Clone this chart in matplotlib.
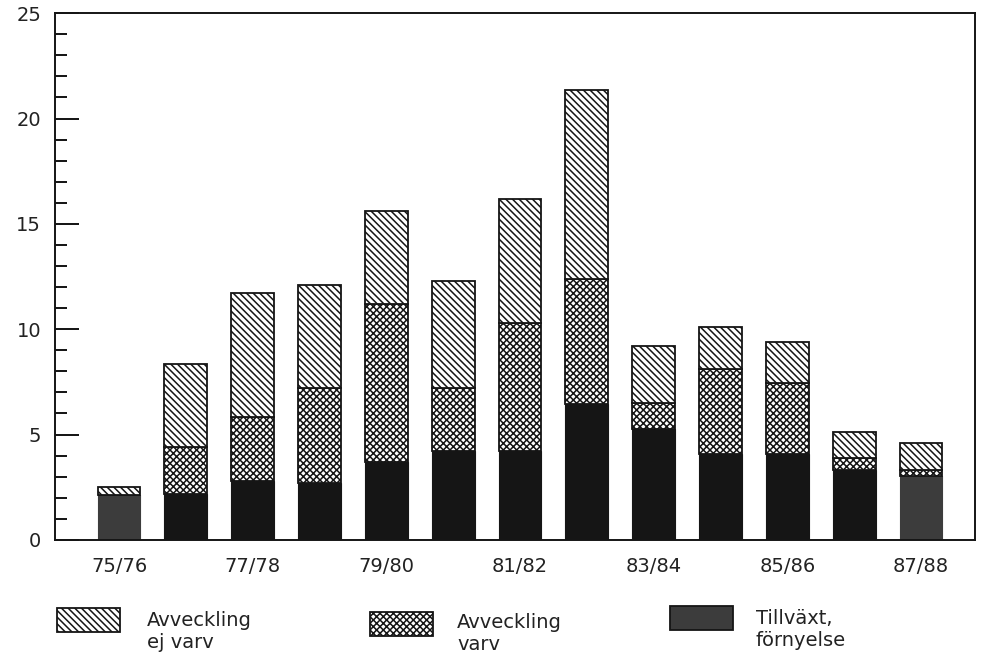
import matplotlib.pyplot as plt
from matplotlib.patches import Rectangle
from matplotlib.ticker import MultipleLocator

# periods 75/76 .. 87/88
periods = ["75/76", "76/77", "77/78", "78/79", "79/80", "80/81", "81/82",
           "82/83", "83/84", "84/85", "85/86", "86/87", "87/88"]
tick_labels = ["75/76", "", "77/78", "", "79/80", "", "81/82",
               "", "83/84", "", "85/86", "", "87/88"]

# bottom segment (black, or grey for "Tillväxt, förnyelse")
bottom = [2.15, 2.2, 2.8, 2.7, 3.7, 4.2, 4.2, 6.45, 5.25, 4.1, 4.1, 3.3, 3.05]
tillvaxt = [True, False, False, False, False, False, False,
            False, False, False, False, False, True]
# Avveckling varv (cross hatch)
varv = [0.0, 2.2, 3.05, 4.5, 7.5, 3.0, 6.1, 5.95, 1.25, 4.0, 3.35, 0.6, 0.25]
# Avveckling ej varv (diagonal hatch)
ej_varv = [0.35, 3.95, 5.85, 4.9, 4.4, 5.1, 5.9, 8.95, 2.7, 2.0, 1.95, 1.2, 1.3]

plt.rcParams['hatch.linewidth'] = 1.1
plt.rcParams['font.family'] = ['DejaVu Sans']

BLACK = "#151515"
GREY = "#3c3c3c"
DIAG = "\\" * 5
CROSS = "x" * 5

fig = plt.figure(figsize=(9.82, 6.6), dpi=100)
ax = fig.add_axes([0.056, 0.182, 0.937, 0.798])

x = list(range(len(periods)))
w = 0.64
base_cols = [GREY if t else BLACK for t in tillvaxt]
ax.bar(x, bottom, w, color=base_cols, edgecolor=base_cols, linewidth=0.8)
mid = [b + v for b, v in zip(bottom, varv)]
ax.bar(x, varv, w, bottom=bottom, color="white", edgecolor=BLACK,
       hatch=CROSS, linewidth=1.3)
ax.bar(x, ej_varv, w, bottom=mid, color="white", edgecolor=BLACK,
       hatch=DIAG, linewidth=1.3)

ax.set_xlim(-0.958, 12.81)
ax.set_ylim(0, 25)
ax.set_xticks(x)
ax.set_xticklabels(tick_labels, fontsize=14, color="#222222")
ax.tick_params(axis="x", length=0, pad=12)
ax.yaxis.set_major_locator(MultipleLocator(5))
ax.yaxis.set_minor_locator(MultipleLocator(1))
ax.tick_params(axis="y", which="major", direction="in", length=17,
               width=1.3, labelsize=14, pad=10, labelcolor="#222222")
ax.tick_params(axis="y", which="minor", direction="in", length=8.5, width=1.3)
for s in ax.spines.values():
    s.set_linewidth(1.4)
    s.set_color(BLACK)

# legend below the axes
items = [("Avveckling\nej varv", "white", DIAG, 57, 147, 608, 611),
         ("Avveckling\nvarv", "white", CROSS, 370, 457, 612, 613),
         ("Tillväxt,\nförnyelse", GREY, None, 670, 756, 606, 609)]
W, H = 982, 660
for label, fc, hatch, px, tx, py, ty in items:
    r = Rectangle((px / W, 1 - (py + 24) / H), 63 / W, 24 / H,
                  transform=fig.transFigure, facecolor=fc, edgecolor=BLACK,
                  hatch=hatch, linewidth=1.3)
    fig.patches.append(r)
    fig.text(tx / W, 1 - ty / H, label, fontsize=14, va="top",
             ha="left", color="#222222", linespacing=1.2)

fig.savefig("out.png", dpi=100)
